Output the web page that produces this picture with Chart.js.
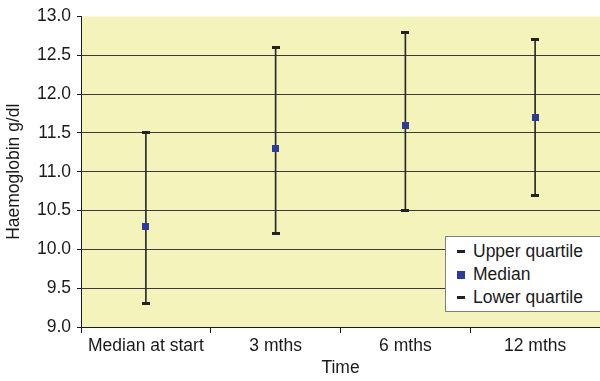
<!DOCTYPE html>
<html lang="en">
<head>
  <meta charset="UTF-8" />
  <title>Haemoglobin over time</title>
  <script src="https://cdn.jsdelivr.net/npm/chart.js"></script>
  <style>
    body { margin: 0; overflow: hidden; background: #fff; font-family: 'Liberation Sans', Arial, sans-serif; }
    .wrap { position: relative; width: 605px; height: 381px; }
    .legend {
      position: absolute; left: 445px; top: 236px; width: 170px; height: 74px;
      background: #fff; border: 1px solid #7f7f7f; font-size: 17.5px; color: #1a1a1a;
    }
    .legend div { position: absolute; left: 0; height: 23px; line-height: 23px; }
    .legend span.mk { position: absolute; }
    .legend span.tx { position: absolute; left: 27px; white-space: nowrap; }
  </style>
</head>
<body>
  <div class="wrap">
    <canvas id="hbChart"></canvas>
    <div class="legend" id="legend"></div>
  </div>

<script>
const categories = ['Median at start', '3 mths', '6 mths', '12 mths'];
const upperQuartile = [11.5, 12.6, 12.8, 12.7];
const median = [10.3, 11.3, 11.6, 11.7];
const lowerQuartile = [9.3, 10.2, 10.5, 10.7];

const yTicks = [9.0, 9.5, 10.0, 10.5, 11.0, 11.5, 12.0, 12.5, 13.0];

const ink = '#1a1a1a';
const blue = '#2e3c96';
const plotBg = '#f3f3bb';

// small marker images
function marker(w, h, color) {
  const c = document.createElement('canvas');
  c.width = w; c.height = h;
  const g = c.getContext('2d');
  g.fillStyle = color;
  g.fillRect(0, 0, w, h);
  return c;
}
const dashMark = marker(8, 3, '#222');
const squareMark = marker(7, 7, blue);

const plotBackground = {
  id: 'plotBackground',
  beforeDraw(chart) {
    const a = chart.chartArea;
    const ctx = chart.ctx;
    ctx.save();
    ctx.fillStyle = plotBg;
    ctx.fillRect(a.left, a.top, a.right - a.left, a.bottom - a.top);
    ctx.restore();
  }
};

const font = { family: "'Liberation Sans', Arial, sans-serif", size: 17.5 };

new Chart(document.getElementById('hbChart'), {
  data: {
    labels: categories,
    datasets: [
      {
        type: 'line', label: 'Upper quartile', data: upperQuartile,
        showLine: false, pointStyle: dashMark, order: 1
      },
      {
        type: 'line', label: 'Median', data: median,
        showLine: false, pointStyle: squareMark, order: 0
      },
      {
        type: 'line', label: 'Lower quartile', data: lowerQuartile,
        showLine: false, pointStyle: dashMark, order: 1
      },
      {
        type: 'bar', label: 'range',
        data: lowerQuartile.map((lo, i) => [lo, upperQuartile[i]]),
        backgroundColor: '#2a2a2a', barThickness: 1, order: 5
      }
    ]
  },
  options: {
    responsive: true,
    maintainAspectRatio: false,
    animation: false,
    layout: { padding: { top: 16, right: 1, left: 0, bottom: 0 } },
    plugins: {
      legend: { display: false },
      tooltip: { enabled: false }
    },
    scales: {
      x: {
        offset: true,
        grid: { offset: true, drawOnChartArea: false, drawTicks: true, tickLength: 6, color: ink },
        border: { color: ink, width: 1 },
        ticks: { font: font, color: ink, padding: 3, maxRotation: 0 },
        title: { display: true, text: 'Time', font: font, color: ink, padding: { top: 0, bottom: 2 } },
        afterFit(scale) { scale.height = 54; }
      },
      y: {
        min: 9, max: 13,
        afterBuildTicks(scale) { scale.ticks = yTicks.map(v => ({ value: v })); },
        grid: {
          color: c => (c.tick && c.tick.value === 13 ? 'rgba(0,0,0,0)' : '#3a3a3a'),
          tickColor: ink, tickLength: 4, lineWidth: 1
        },
        border: { color: ink, width: 1 },
        ticks: { font: font, color: ink, padding: 6, callback: v => Number(v).toFixed(1) },
        title: { display: true, text: 'Haemoglobin g/dl', font: font, color: ink, padding: { top: 4, bottom: 0 } },
        afterFit(scale) { scale.width = 81; }
      }
    }
  },
  plugins: [plotBackground]
});

// legend from the line datasets
const legendItems = [
  { label: 'Upper quartile', w: 8, h: 3, color: '#222' },
  { label: 'Median', w: 8, h: 8, color: blue },
  { label: 'Lower quartile', w: 8, h: 3, color: '#222' }
];
const legendEl = document.getElementById('legend');
legendItems.forEach((it, i) => {
  const row = document.createElement('div');
  row.style.top = (3 + i * 23) + 'px';
  const mk = document.createElement('span');
  mk.className = 'mk';
  mk.style.left = '11px';
  mk.style.top = (11.5 - it.h / 2) + 'px';
  mk.style.width = it.w + 'px';
  mk.style.height = it.h + 'px';
  mk.style.background = it.color;
  const tx = document.createElement('span');
  tx.className = 'tx';
  tx.textContent = it.label;
  row.appendChild(mk);
  row.appendChild(tx);
  legendEl.appendChild(row);
});
</script>
</body>
</html>
